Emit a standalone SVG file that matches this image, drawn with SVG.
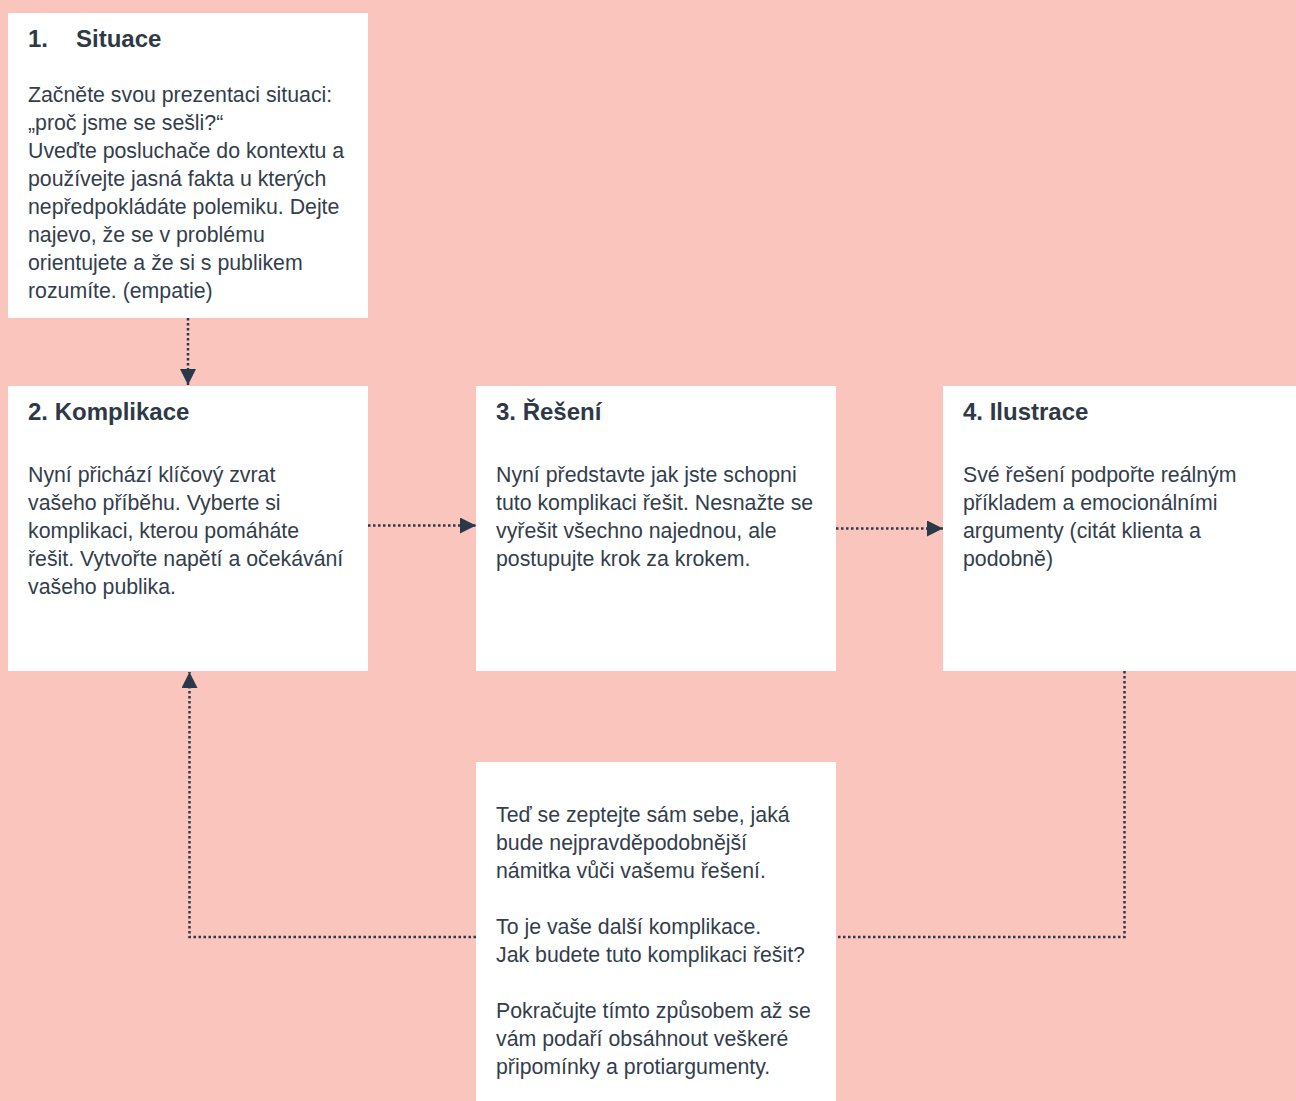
<svg xmlns="http://www.w3.org/2000/svg" width="1296" height="1101" viewBox="0 0 1296 1101">
<defs>
<style>
.box{fill:#ffffff}
.t{font-family:"Liberation Sans",Arial,sans-serif;fill:#2e3947}
.h{font-size:24px;font-weight:bold}
.b{font-size:21.3px;fill:#333e4c}
.c{fill:none;stroke:#2e3947;stroke-width:2.5;stroke-dasharray:2.5 2.5}
</style>
<marker id="ah" viewBox="0 0 10 10" refX="10" refY="5" markerWidth="16" markerHeight="16" markerUnits="userSpaceOnUse" orient="auto">
<path d="M0,0 L10,5 L0,10 Z" fill="#2a3949"/>
</marker>
</defs>
<rect width="1296" height="1101" fill="#f9c5bd"/>
<g id="connectors">
<path class="c" d="M188,318 V385" marker-end="url(#ah)"/>
<path class="c" d="M368,525.5 H476" marker-end="url(#ah)"/>
<path class="c" d="M836,528.5 H943" marker-end="url(#ah)"/>
<path class="c" d="M1124.5,671 V937 H836"/>
<path class="c" d="M476,937 H189.5 V672" marker-end="url(#ah)"/>
</g>
<g id="n1">
<rect class="box" x="8" y="13" width="360" height="305"/>
<text class="t h" x="28" y="47">1.<tspan x="76">Situace</tspan></text>
<text class="t b">
<tspan x="28" y="102">Začněte svou prezentaci situaci:</tspan>
<tspan x="28" y="130">„proč jsme se sešli?“</tspan>
<tspan x="28" y="158">Uveďte posluchače do kontextu a</tspan>
<tspan x="28" y="186">používejte jasná fakta u kterých</tspan>
<tspan x="28" y="214">nepředpokládáte polemiku. Dejte</tspan>
<tspan x="28" y="242">najevo, že se v problému</tspan>
<tspan x="28" y="270">orientujete a že si s publikem</tspan>
<tspan x="28" y="298">rozumíte. (empatie)</tspan>
</text>
</g>
<g id="n2">
<rect class="box" x="8" y="386" width="360" height="285"/>
<text class="t h" x="28" y="420">2. Komplikace</text>
<text class="t b">
<tspan x="28" y="482">Nyní přichází klíčový zvrat</tspan>
<tspan x="28" y="510">vašeho příběhu. Vyberte si</tspan>
<tspan x="28" y="538">komplikaci, kterou pomáháte</tspan>
<tspan x="28" y="566">řešit. Vytvořte napětí a očekávání</tspan>
<tspan x="28" y="594">vašeho publika.</tspan>
</text>
</g>
<g id="n3">
<rect class="box" x="476" y="386" width="360" height="285"/>
<text class="t h" x="496" y="420">3. Řešení</text>
<text class="t b">
<tspan x="496" y="482">Nyní představte jak jste schopni</tspan>
<tspan x="496" y="510">tuto komplikaci řešit. Nesnažte se</tspan>
<tspan x="496" y="538">vyřešit všechno najednou, ale</tspan>
<tspan x="496" y="566">postupujte krok za krokem.</tspan>
</text>
</g>
<g id="n4">
<rect class="box" x="943" y="386" width="353" height="285"/>
<text class="t h" x="963" y="420">4. Ilustrace</text>
<text class="t b">
<tspan x="963" y="482">Své řešení podpořte reálným</tspan>
<tspan x="963" y="510">příkladem a emocionálními</tspan>
<tspan x="963" y="538">argumenty (citát klienta a</tspan>
<tspan x="963" y="566">podobně)</tspan>
</text>
</g>
<g id="n5">
<rect class="box" x="476" y="762" width="360" height="339"/>
<text class="t b">
<tspan x="496" y="822">Teď se zeptejte sám sebe, jaká</tspan>
<tspan x="496" y="850">bude nejpravděpodobnější</tspan>
<tspan x="496" y="878">námitka vůči vašemu řešení.</tspan>
<tspan x="496" y="934">To je vaše další komplikace.</tspan>
<tspan x="496" y="962">Jak budete tuto komplikaci řešit?</tspan>
<tspan x="496" y="1018">Pokračujte tímto způsobem až se</tspan>
<tspan x="496" y="1046">vám podaří obsáhnout veškeré</tspan>
<tspan x="496" y="1074">připomínky a protiargumenty.</tspan>
</text>
</g>
</svg>
